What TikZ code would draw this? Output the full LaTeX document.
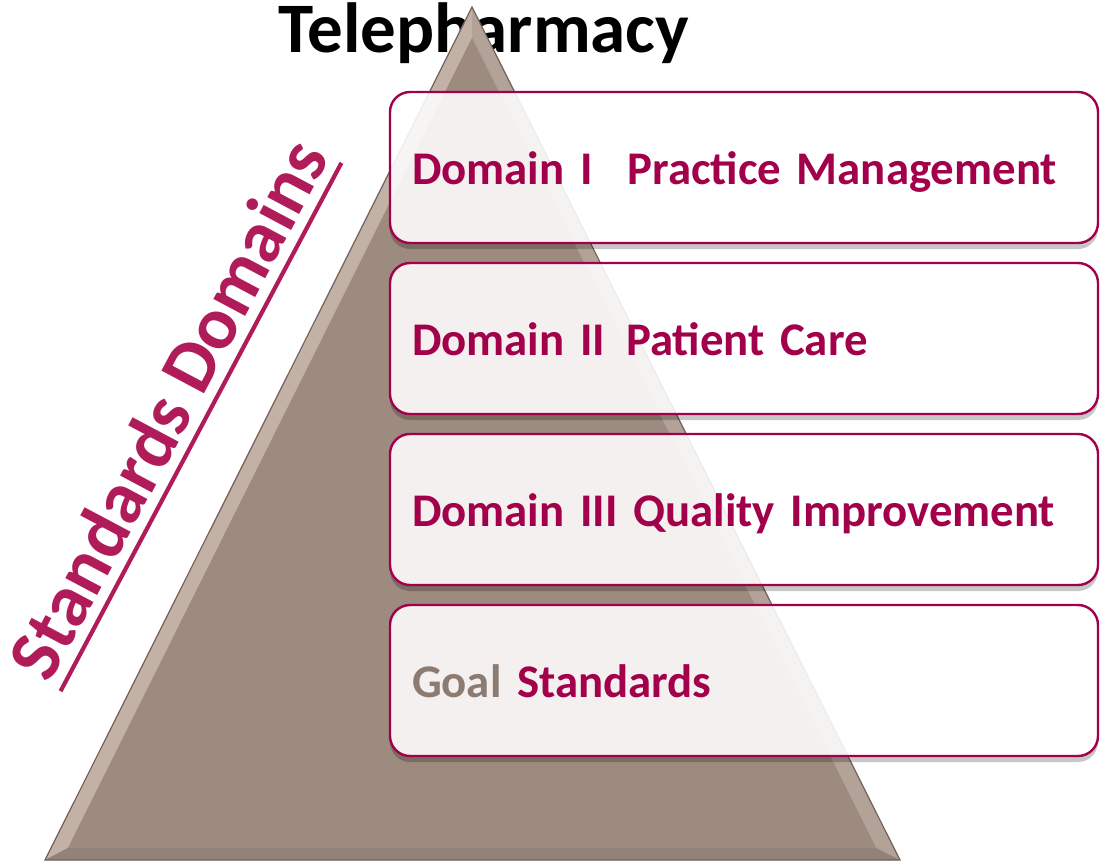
\documentclass[tikz,border=0pt]{standalone}
\usepackage{fontspec}
\setmainfont{Carlito}
\definecolor{crimson}{HTML}{A3004B}
\definecolor{rosetext}{HTML}{B01C5A}
\definecolor{pyramid}{HTML}{9D8B80}
\definecolor{pyramidedge}{HTML}{6F625B}
\definecolor{bevellight}{HTML}{C4B1A6}
\definecolor{bevelright}{HTML}{B3A297}
\definecolor{beveldark}{HTML}{93827A}
\definecolor{goalgrey}{HTML}{8C7B70}

\begin{document}
\begin{tikzpicture}[x=0.5pt,y=-0.5pt]
% Styles
\tikzstyle{domain box}=[draw=crimson, line width=1.2pt, rounded corners=10pt,
  minimum width=354pt, minimum height=75.5pt, text width=332pt,
  inner xsep=11pt, align=left, text=crimson,
  font=\fontsize{23.4}{28}\selectfont\bfseries, text height=17pt, text depth=0pt]
\tikzstyle{title text}=[font=\fontsize{35.5}{40}\selectfont\bfseries, inner sep=0pt]
\tikzstyle{side text}=[font=\fontsize{37.2}{42}\selectfont\bfseries, text=rosetext,
  inner xsep=0pt, inner ysep=6pt, text depth=0pt]
\useasboundingbox (0,0) rectangle (1102,864);
% The title sits behind the pyramid
\node[title text, anchor=base] (title) at (484,52) {Telepharmacy};
% The pyramid
\coordinate (apex) at (472,7);
\coordinate (bl) at (45,860);
\coordinate (br) at (900,860);
\coordinate (iapex) at (472,38);
\coordinate (ibl) at (68,848);
\coordinate (ibr) at (876,848);
\fill[pyramid] (apex) -- (bl) -- (br) -- cycle;
\fill[bevellight] (apex) -- (bl) -- (ibl) -- (iapex) -- cycle;
\fill[bevelright] (apex) -- (br) -- (ibr) -- (iapex) -- cycle;
\fill[beveldark] (bl) -- (br) -- (ibr) -- (ibl) -- cycle;
\fill[pyramid] (iapex) -- (ibl) -- (ibr) -- cycle;
\draw[pyramidedge, line width=0.6pt] (apex) -- (bl) -- (br) -- cycle;
% Side label
\node[side text, rotate=62, anchor=south] (std) at (201,427) {Standards Domains};
\draw[rosetext, line width=2.1pt] (std.south west) -- (std.south east);
% The domain boxes: shadow and glassy fill, then frame and text
\foreach \i/\txt in {1/{Domain I\hspace{0.75em}Practice Management},
  2/{Domain II\hspace{0.45em}Patient Care},
  3/{Domain III Quality Improvement},
  4/{\textcolor{goalgrey}{Goal} Standards}} {
  \begin{scope}[transparency group, opacity=0.88]
    \fill[black, opacity=0.25, rounded corners=10pt]
      (390,{92+171*(\i-1)+6}) rectangle (1098,{243+171*(\i-1)+6});
    \fill[white, rounded corners=10pt]
      (390,{92+171*(\i-1)}) rectangle (1098,{243+171*(\i-1)});
  \end{scope}
  \node[domain box] (box\i) at (744,{167.5+171*(\i-1)}) {\txt};
}
\end{tikzpicture}
\end{document}
